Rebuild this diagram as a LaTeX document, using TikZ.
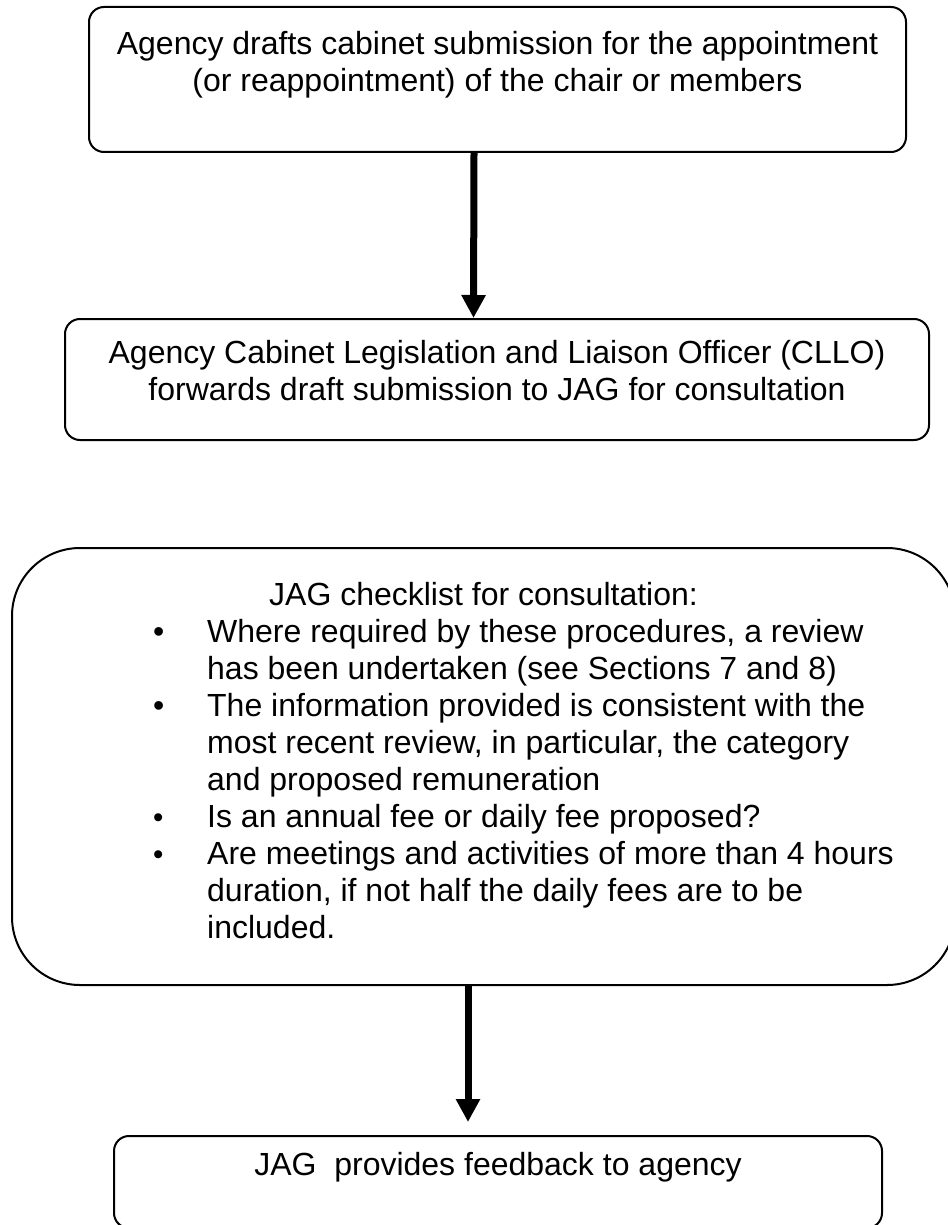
\documentclass[tikz,border=0pt]{standalone}
\usepackage{fontspec}
\setmainfont{Liberation Sans}
\usetikzlibrary{arrows.meta}

\tikzset{
  stepbox/.style={draw,line width=2pt,rounded corners=15pt,align=center,inner sep=0pt},
  flow/.style={->,line width=7pt}
}

\begin{document}
\begin{tikzpicture}[x=1pt,y=-1pt,>={Triangle[length=23pt,width=23pt]},font=\fontsize{32}{37}\selectfont]
  \useasboundingbox (0,0) rectangle (947,1225);
  % agency drafts the submission
  \node[stepbox,minimum width=817pt,minimum height=145pt] (draft) at (497.5,79.5)
    {Agency drafts cabinet submission for the appointment\\(or reappointment) of the chair or members\\\mbox{}};
  % CLLO sends it on to JAG
  \node[stepbox,minimum width=864pt,minimum height=121pt] (cllo) at (497,379.5)
    {Agency Cabinet Legislation and Liaison Officer (CLLO)\\forwards draft submission to JAG for consultation\\[-18.7pt]\mbox{}};
  % JAG checklist (big rounded box, runs off the right edge)
  \node[stepbox,rounded corners=68pt,minimum width=943pt,minimum height=437pt] (check) at (483.5,766.5) {};
  \node[anchor=west,inner sep=0pt] (list) at ([xshift=142pt,yshift=2pt]check.west) {%
    \begin{tabular}{@{}p{54pt}@{}l@{}}
      \multicolumn{2}{@{}l@{}}{\hspace{116pt}JAG checklist for consultation:}\\
      \textbullet & Where required by these procedures, a review\\
                  & has been undertaken (see Sections 7 and 8)\\
      \textbullet & The information provided is consistent with the\\
                  & most recent review, in particular, the category\\
                  & and proposed remuneration\\
      \scalebox{0.92}{\textbullet} & Is an annual fee or daily fee proposed?\\
      \scalebox{0.92}{\textbullet} & Are meetings and activities of more than 4 hours\\
                  & duration, if not half the daily fees are to be\\
                  & included.
    \end{tabular}};
  % feedback
  \node[stepbox,minimum width=768pt,minimum height=92pt] (feedback) at (498,1182)
    {JAG\ \ provides feedback to agency\\\mbox{}};
  % arrows
  \draw[flow] ([xshift=-23.5pt]draft.south) -- ([xshift=-23.5pt]cllo.north);
  \draw[flow] ([xshift=-15.5pt]check.south) -- ([xshift=-30pt,yshift=13pt]feedback.north);
\end{tikzpicture}
\end{document}
